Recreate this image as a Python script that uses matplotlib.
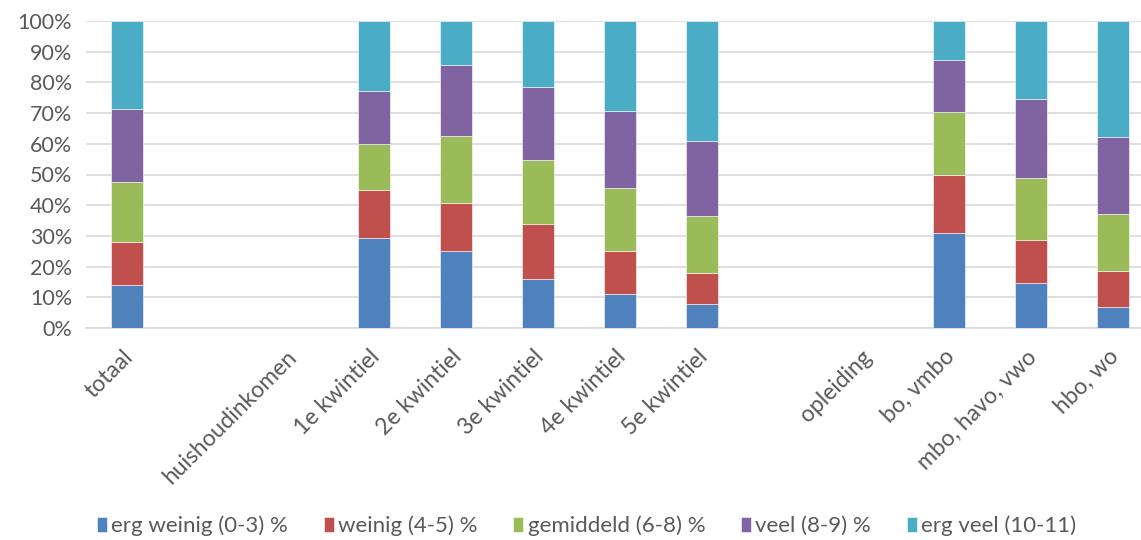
import matplotlib
matplotlib.use("Agg")
import matplotlib.pyplot as plt
import matplotlib.transforms as mtransforms
import numpy as np
from matplotlib.ticker import PercentFormatter

# categories (empty strings are spacer slots in the original chart)
categories = ["totaal", "", "huishoudinkomen", "1e kwintiel", "2e kwintiel",
              "3e kwintiel", "4e kwintiel", "5e kwintiel", "", "opleiding",
              "bo, vmbo", "mbo, havo, vwo", "hbo, wo"]

series_names = ["erg weinig (0-3) %", "weinig (4-5) %", "gemiddeld (6-8) %",
                "veel (8-9) %", "erg veel (10-11)"]

# percentages per category, NaN for empty slots
erg_weinig = [14.0, np.nan, np.nan, 29.2, 25.0, 16.1, 11.1, 7.7, np.nan, np.nan, 30.9, 14.8, 6.8]
weinig     = [13.9, np.nan, np.nan, 15.6, 15.6, 17.7, 14.1, 10.1, np.nan, np.nan, 18.8, 13.9, 11.7]
gemiddeld  = [19.5, np.nan, np.nan, 15.0, 22.0, 20.9, 20.3, 18.6, np.nan, np.nan, 20.8, 20.3, 18.6]
veel       = [23.8, np.nan, np.nan, 17.3, 23.0, 23.8, 25.1, 24.4, np.nan, np.nan, 16.7, 25.5, 25.0]
erg_veel   = [28.8, np.nan, np.nan, 22.9, 14.4, 21.5, 29.4, 39.2, np.nan, np.nan, 12.8, 25.5, 37.9]

colors = ["#4F81BD", "#C0504D", "#9BBB59", "#8064A2", "#4BACC6"]

plt.rcParams['font.family'] = ['Lato', 'DejaVu Sans']

fig = plt.figure(figsize=(11.41, 5.4), dpi=100)
ax = fig.add_axes([86/1141, (540-328)/540, (1154-86)/1141, 307/540])

x = np.arange(len(categories))
bottom = np.zeros(len(categories))
for name, vals, c in zip(series_names, [erg_weinig, weinig, gemiddeld, veel, erg_veel], colors):
    v = np.nan_to_num(np.array(vals, dtype=float))
    ax.bar(x, v, bottom=bottom, width=0.39, color=c, edgecolor="white",
           linewidth=0.4, label=name, zorder=3)
    bottom += v

ax.set_xlim(-0.5, len(categories) - 0.5)
ax.set_ylim(0, 100)
ax.set_yticks(np.arange(0, 101, 10))
ax.yaxis.set_major_formatter(PercentFormatter(decimals=0))
ax.grid(axis="y", color="#d9d9d9", linewidth=1.2, zorder=0)
for s in ["top", "right", "left"]:
    ax.spines[s].set_visible(False)
ax.spines["bottom"].set_color("#d9d9d9")
ax.spines["bottom"].set_linewidth(1.2)

ax.set_xticks(x)
ax.set_xticklabels(categories, rotation=45, ha="right", rotation_mode="anchor",
                   fontsize=16.5, color="#595959")
ax.tick_params(axis="x", length=0, pad=13)
ax.tick_params(axis="y", length=0, labelsize=15.5, labelcolor="#595959", pad=10)
# nudge rotated labels a little to the left
shift = mtransforms.ScaledTranslation(-5/100, 0, fig.dpi_scale_trans)
for lbl in ax.get_xticklabels():
    lbl.set_transform(lbl.get_transform() + shift)

fig.legend(loc="lower center", ncol=5, frameon=False, fontsize=16,
           bbox_to_anchor=(0.514, -0.03), handlelength=0.45, handleheight=0.7,
           handletextpad=0.2, columnspacing=1.6, labelcolor="#595959")

fig.savefig("out.png", dpi=100)
